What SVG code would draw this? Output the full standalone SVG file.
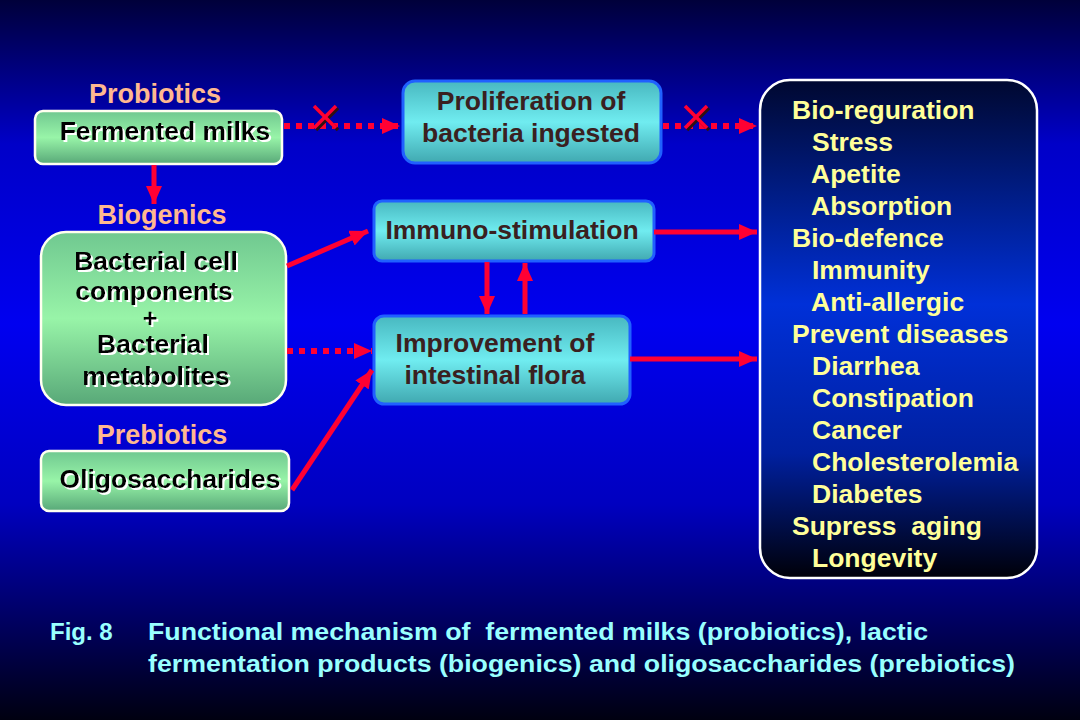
<svg xmlns="http://www.w3.org/2000/svg" width="1080" height="720" viewBox="0 0 1080 720">
<defs>
<linearGradient id="bg" x1="0" y1="0" x2="0" y2="1">
<stop offset="0" stop-color="#00003a"/>
<stop offset="0.2" stop-color="#0000c8"/>
<stop offset="0.45" stop-color="#0000f0"/>
<stop offset="0.7" stop-color="#0000c0"/>
<stop offset="1" stop-color="#000010"/>
</linearGradient>
<linearGradient id="green" x1="0" y1="0" x2="0" y2="1">
<stop offset="0" stop-color="#70c890"/>
<stop offset="0.5" stop-color="#98f4a8"/>
<stop offset="1" stop-color="#58a878"/>
</linearGradient>
<linearGradient id="cyan" x1="0" y1="0" x2="0" y2="1">
<stop offset="0" stop-color="#48b8c0"/>
<stop offset="0.5" stop-color="#70ecf0"/>
<stop offset="1" stop-color="#40a8b0"/>
</linearGradient>
<linearGradient id="dark" x1="0" y1="0" x2="0" y2="1">
<stop offset="0" stop-color="#000830"/>
<stop offset="0.45" stop-color="#0030d8"/>
<stop offset="0.75" stop-color="#0020a0"/>
<stop offset="1" stop-color="#000008"/>
</linearGradient>
<filter id="ws" x="-5%" y="-10%" width="110%" height="120%">
<feOffset in="SourceAlpha" dx="2" dy="2" result="o"/>
<feFlood flood-color="#ffffff"/>
<feComposite in2="o" operator="in" result="s"/>
<feMerge><feMergeNode in="s"/><feMergeNode in="SourceGraphic"/></feMerge>
</filter>
<marker id="ah" markerUnits="userSpaceOnUse" markerWidth="18" markerHeight="16" refX="18" refY="8" orient="auto">
<path d="M0,0 L18,8 L0,16 Z" fill="#ff0033"/>
</marker>
<style>
.bg{fill:url(#bg)}
.gbox{fill:url(#green);stroke:#fffff0;stroke-width:2.5}
.cbox{fill:url(#cyan);stroke:#2060ff;stroke-width:3}
.dbox{fill:url(#dark);stroke:#ffffff;stroke-width:2.5}
.lbl{font-family:"Liberation Sans",Arial,sans-serif;font-weight:bold;font-size:27px;fill:#ffb890}
.gt{font-family:"Liberation Sans",Arial,sans-serif;font-weight:bold;font-size:26.5px;fill:#000;text-anchor:middle;filter:url(#ws)}
.ct{font-family:"Liberation Sans",Arial,sans-serif;font-weight:bold;font-size:26.5px;fill:#3a2020;text-anchor:middle}
.yt{font-family:"Liberation Sans",Arial,sans-serif;font-weight:bold;font-size:26.5px;fill:#ffff99}
.cap{font-family:"Liberation Sans",Arial,sans-serif;font-weight:bold;font-size:24px;fill:#99ffff}
.sol{stroke:#ff0033;stroke-width:5;fill:none;marker-end:url(#ah)}
.dot{stroke:#ff0033;stroke-width:6;fill:none;stroke-dasharray:6 6;marker-end:url(#ah)}
.x{stroke:#ff0033;stroke-width:3.5}
.xs{stroke:#301010;stroke-width:3.5}
</style>
</defs>
<rect class="bg" x="0" y="0" width="1080" height="720"/>

<g id="probiotics-label"><text class="lbl" x="155" y="103" text-anchor="middle">Probiotics</text></g>
<g id="fermented-milks">
<rect class="gbox" x="35" y="111" width="247" height="53" rx="8"/>
<text class="gt" x="165" y="140">Fermented milks</text>
</g>
<g id="biogenics-label"><text class="lbl" x="162" y="224" text-anchor="middle">Biogenics</text></g>
<g id="bacterial">
<rect class="gbox" x="41" y="232" width="245" height="173" rx="25"/>
<text class="gt" x="156" y="270"><tspan x="156">Bacterial cell</tspan><tspan x="154" dy="30">components</tspan><tspan x="150" dy="27" style="font-size:25px">+</tspan><tspan x="153" dy="26">Bacterial</tspan><tspan x="156" dy="32">metabolites</tspan></text>
</g>
<g id="prebiotics-label"><text class="lbl" x="162" y="444" text-anchor="middle">Prebiotics</text></g>
<g id="oligosaccharides">
<rect class="gbox" x="41" y="451" width="248" height="60" rx="8"/>
<text class="gt" x="170" y="488">Oligosaccharides</text>
</g>

<g id="proliferation">
<rect class="cbox" x="403" y="81" width="258" height="82" rx="12"/>
<text class="ct" x="531" y="110">Proliferation of</text>
<text class="ct" x="531" y="142">bacteria ingested</text>
</g>
<g id="immuno">
<rect class="cbox" x="374" y="201" width="280" height="60" rx="8"/>
<text class="ct" x="512" y="239">Immuno-stimulation</text>
</g>
<g id="improvement">
<rect class="cbox" x="374" y="316" width="256" height="88" rx="10"/>
<text class="ct" x="495" y="352">Improvement of</text>
<text class="ct" x="495" y="384">intestinal flora</text>
</g>

<g id="effects">
<rect class="dbox" x="760" y="80" width="277" height="498" rx="30"/>
<text class="yt" x="792" y="119">Bio-reguration</text>
<text class="yt" x="812" y="151">Stress</text>
<text class="yt" x="811" y="183">Apetite</text>
<text class="yt" x="811" y="215">Absorption</text>
<text class="yt" x="792" y="247">Bio-defence</text>
<text class="yt" x="812" y="279">Immunity</text>
<text class="yt" x="811" y="311">Anti-allergic</text>
<text class="yt" x="792" y="343">Prevent diseases</text>
<text class="yt" x="812" y="375">Diarrhea</text>
<text class="yt" x="812" y="407">Constipation</text>
<text class="yt" x="812" y="439">Cancer</text>
<text class="yt" x="812" y="471">Cholesterolemia</text>
<text class="yt" x="812" y="503">Diabetes</text>
<text class="yt" x="792" y="535" xml:space="preserve">Supress  aging</text>
<text class="yt" x="812" y="567">Longevity</text>
</g>

<g id="connectors">
<line class="dot" x1="284" y1="126" x2="400" y2="126"/>
<line class="dot" x1="663" y1="126" x2="757" y2="126"/>
<line class="sol" x1="154" y1="165" x2="154" y2="204"/>
<line class="sol" x1="287" y1="266" x2="368" y2="231"/>
<line class="sol" x1="654" y1="232" x2="757" y2="232"/>
<line class="sol" x1="487" y1="262" x2="487" y2="314"/>
<line class="sol" x1="525" y1="314" x2="525" y2="263"/>
<line class="dot" x1="287" y1="351" x2="372" y2="351"/>
<line class="sol" x1="292" y1="490" x2="372" y2="370"/>
<line class="sol" x1="630" y1="359" x2="757" y2="359"/>
<g id="block-1">
<line class="xs" x1="316" y1="108" x2="338" y2="130"/><line class="xs" x1="338" y1="108" x2="316" y2="130"/>
<line class="x" x1="314" y1="106" x2="336" y2="128"/><line class="x" x1="336" y1="106" x2="314" y2="128"/>
</g>
<g id="block-2">
<line class="xs" x1="687" y1="108" x2="709" y2="130"/><line class="xs" x1="709" y1="108" x2="687" y2="130"/>
<line class="x" x1="685" y1="106" x2="707" y2="128"/><line class="x" x1="707" y1="106" x2="685" y2="128"/>
</g>
</g>

<g id="caption">
<text class="cap" x="50" y="640">Fig. 8</text>
<text class="cap" x="148" y="640" textLength="780" lengthAdjust="spacingAndGlyphs" xml:space="preserve">Functional mechanism of  fermented milks (probiotics), lactic</text>
<text class="cap" x="148" y="672" textLength="867" lengthAdjust="spacingAndGlyphs">fermentation products (biogenics) and oligosaccharides (prebiotics)</text>
</g>
</svg>
